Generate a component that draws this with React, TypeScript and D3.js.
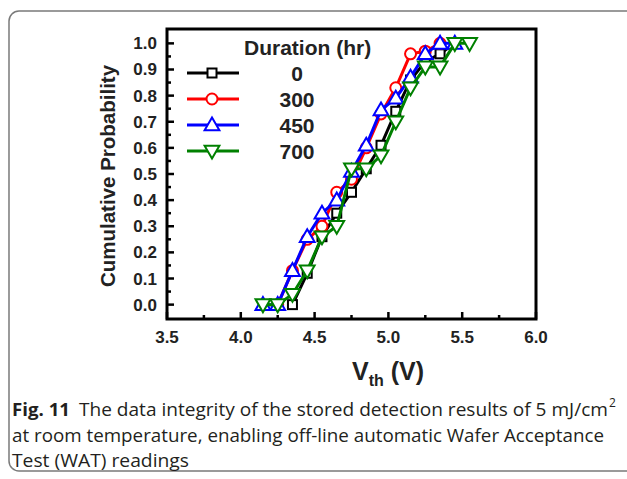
import React, {useMemo} from 'react'
import * as d3 from 'd3'

// Vth readings (V) and cumulative probability for each storage duration
const durations = ['0', '300', '450', '700']
const vth0 = [4.35, 4.45, 4.55, 4.65, 4.75, 4.85, 4.95, 5.05, 5.15, 5.25, 5.35, 5.45]
const prob0 = [0, 0.12, 0.26, 0.35, 0.43, 0.52, 0.61, 0.74, 0.86, 0.93, 0.96, 1.0]
const vth300 = [4.25, 4.35, 4.45, 4.55, 4.65, 4.75, 4.85, 4.95, 5.05, 5.15, 5.25, 5.35]
const prob300 = [0, 0.13, 0.25, 0.30, 0.43, 0.48, 0.60, 0.73, 0.83, 0.96, 0.97, 1.0]
const vth450 = [4.15, 4.25, 4.35, 4.45, 4.55, 4.65, 4.75, 4.85, 4.95, 5.05, 5.15, 5.25, 5.35, 5.45]
const prob450 = [0, 0, 0.13, 0.26, 0.35, 0.40, 0.51, 0.61, 0.745, 0.79, 0.87, 0.96, 1.0, 1.0]
const vth700 = [4.15, 4.25, 4.35, 4.45, 4.55, 4.65, 4.75, 4.85, 4.95, 5.05, 5.15, 5.25, 5.35, 5.45, 5.55]
const prob700 = [0, 0, 0.04, 0.13, 0.26, 0.30, 0.52, 0.52, 0.57, 0.70, 0.83, 0.91, 0.91, 1.0, 1.0]

const xTicks = [3.5, 4.0, 4.5, 5.0, 5.5, 6.0]
const yTicks = [0, 0.1, 0.2, 0.3, 0.4, 0.5, 0.6, 0.7, 0.8, 0.9, 1.0]

const colors = ['#000000', '#ff0000', '#0000ff', '#008000']
const shapes = ['square', 'circle', 'up', 'down']

const font = '"Liberation Sans", Arial, sans-serif'

const Marker = ({shape, x, y, color}) => {
  if (shape === 'square') {
    return <rect x={x - 4.5} y={y - 4.5} width={9} height={9} fill="#fff" stroke={color} strokeWidth={2} />
  }
  if (shape === 'circle') {
    return <circle cx={x} cy={y} r={5.5} fill="#fff" stroke={color} strokeWidth={2} />
  }
  const tri = d3.symbol().type(d3.symbolTriangle).size(95)()
  return (
    <path
      d={tri}
      transform={`translate(${x},${y + (shape === 'up' ? 1 : -1)}) rotate(${shape === 'up' ? 0 : 180})`}
      fill="#fff"
      stroke={color}
      strokeWidth={2}
    />
  )
}

const App = () => {
  const x = d3.scaleLinear().domain([3.5, 6.0]).range([167, 536])
  const y = d3.scaleLinear().domain([-0.055, 1.055]).range([319, 29])

  const series = useMemo(() => {
    const xs = [vth0, vth300, vth450, vth700]
    const ps = [prob0, prob300, prob450, prob700]
    return xs.map((v, i) => v.map((d, j) => [d, ps[i][j]]))
  }, [])

  const line = d3.line().x(d => x(d[0])).y(d => y(d[1]))

  const minorX = d3.range(3.75, 6.0, 0.5)
  const minorY = d3.range(0.05, 1.0, 0.1)

  return (
    <svg width="627" height="479" style={{position: 'absolute', left: 0, top: 0, background: '#fff'}}>
      <rect x={9} y={11} width={640} height={460} rx={10} fill="none" stroke="#7a7a7a" strokeWidth={1.5} />

      {/* frame */}
      <rect x={x(3.5)} y={y(1.055)} width={x(6.0) - x(3.5)} height={y(-0.055) - y(1.055)}
        fill="none" stroke="#000" strokeWidth={3} />

      {/* ticks */}
      {xTicks.map(t => (
        <g key={'xt' + t}>
          <line x1={x(t)} x2={x(t)} y1={y(-0.055)} y2={y(-0.055) - 7} stroke="#000" strokeWidth={2.5} />
          <text x={x(t)} y={343} textAnchor="middle" fontFamily={font} fontWeight="bold" fontSize={17} fill="#222">
            {t.toFixed(1)}
          </text>
        </g>
      ))}
      {minorX.map(t => (
        <line key={'xm' + t} x1={x(t)} x2={x(t)} y1={y(-0.055)} y2={y(-0.055) - 4} stroke="#000" strokeWidth={2.5} />
      ))}
      {yTicks.map(t => (
        <g key={'yt' + t}>
          <line x1={x(3.5)} x2={x(3.5) + 7} y1={y(t)} y2={y(t)} stroke="#000" strokeWidth={2.5} />
          <text x={157} y={y(t) + 6} textAnchor="end" fontFamily={font} fontWeight="bold" fontSize={17} fill="#222">
            {t.toFixed(1)}
          </text>
        </g>
      ))}
      {minorY.map(t => (
        <line key={'ym' + t} x1={x(3.5)} x2={x(3.5) + 4} y1={y(t)} y2={y(t)} stroke="#000" strokeWidth={2.5} />
      ))}

      {/* axis titles */}
      <text transform="translate(115,176) rotate(-90)" textAnchor="middle" fontFamily={font}
        fontWeight="bold" fontSize={20.5} fill="#222">Cumulative Probability</text>
      <text x={352} y={380} fontFamily={font} fontWeight="bold" fontSize={25} fill="#222">
        V<tspan fontSize={16} dy={6}>th</tspan><tspan dy={-6}> (V)</tspan>
      </text>

      {/* data */}
      {series.map((s, i) => (
        <g key={'s' + i}>
          <path d={line(s)} fill="none" stroke={colors[i]} strokeWidth={3} />
          {s.map((d, j) => (
            <Marker key={j} shape={shapes[i]} x={x(d[0])} y={y(d[1])} color={colors[i]} />
          ))}
        </g>
      ))}

      {/* legend */}
      <text x={244} y={55} fontFamily={font} fontWeight="bold" fontSize={21} fill="#222">Duration (hr)</text>
      {durations.map((d, i) => {
        const ly = 73 + i * 26
        return (
          <g key={'lg' + d}>
            <line x1={187} x2={239} y1={ly} y2={ly} stroke={colors[i]} strokeWidth={3} />
            <Marker shape={shapes[i]} x={212} y={ly} color={colors[i]} />
            <text x={297} y={ly + 8} textAnchor="middle" fontFamily={font} fontWeight="bold" fontSize={21} fill="#222">{d}</text>
          </g>
        )
      })}

      {/* caption */}
      <g fontFamily='"Open Sans", sans-serif' fontSize={18.5} fill="#231f20">
        <text x={12} y={416} fontWeight="bold" textLength={58} lengthAdjust="spacingAndGlyphs">Fig. 11</text>
        <text x={79} y={416} textLength={529} lengthAdjust="spacingAndGlyphs">
          The data integrity of the stored detection results of 5 mJ/cm
        </text>
        <text x={609} y={407} fontSize={12}>2</text>
        <text x={12} y={442} textLength={592} lengthAdjust="spacingAndGlyphs">
          at room temperature, enabling off-line automatic Wafer Acceptance
        </text>
        <text x={12} y={467} textLength={177} lengthAdjust="spacingAndGlyphs">Test (WAT) readings</text>
      </g>
    </svg>
  )
}

export default App
